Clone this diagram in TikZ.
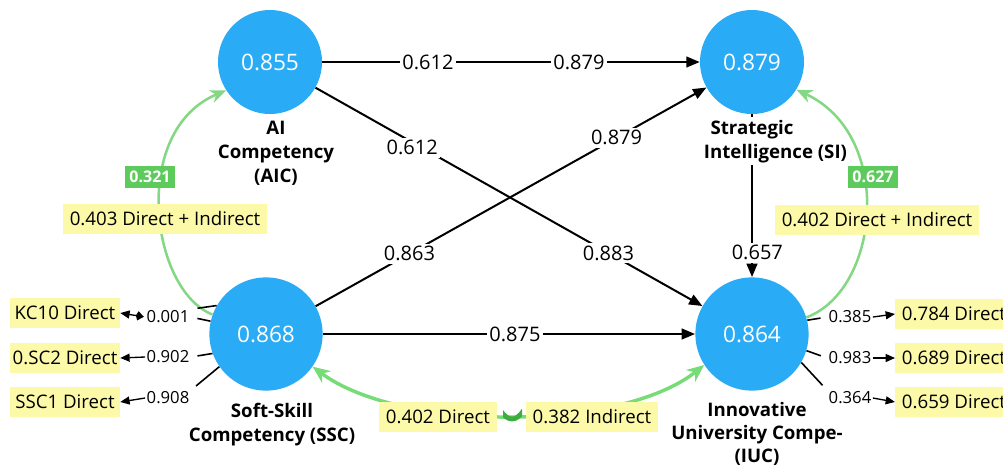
\documentclass[tikz,border=0pt]{standalone}
\usepackage{fontspec}
\setmainfont{Open Sans}
\usetikzlibrary{arrows.meta}
\definecolor{nodeblue}{HTML}{2AABF5}
\definecolor{notey}{HTML}{FCF9A8}
\definecolor{pathgreen}{HTML}{84D884}
\definecolor{tagg}{HTML}{5CCB5C}
\definecolor{darkg}{HTML}{3DAE3D}
\tikzset{
  construct/.style={circle, fill=nodeblue, text=white, inner sep=0pt, font=\fontsize{17}{20}\selectfont},
  bigc/.style={construct, minimum size=85pt},
  smallc/.style={construct, minimum size=78pt},
  ttl/.style={fill=white, inner sep=2pt, font=\bfseries\fontsize{14}{18}\selectfont},
  pathedge/.style={line width=1.5pt, -{Triangle[length=10pt,width=8pt]}},
  wlab/.style={fill=white, inner sep=2pt, font=\fontsize{15}{18}\selectfont},
  slab/.style={inner sep=1pt, font=\fontsize{12.5}{14}\selectfont},
  stub/.style={line width=1.2pt, shorten >=5pt},
  tipedge/.style={line width=1pt, -{Triangle[length=7pt,width=6pt]}},
  effect/.style={draw=pathgreen, line width=1.9pt, -{Stealth[length=12pt,width=10pt]}},
  note/.style={fill=notey, inner xsep=5pt, minimum height=22pt, font=\fontsize{14}{16}\selectfont},
  tag/.style={fill=tagg, text=white, font=\bfseries\fontsize{12}{14}\selectfont, minimum height=16pt, inner xsep=3pt},
}
\begin{document}
\begin{tikzpicture}[x=0.75pt,y=-0.75pt]
\useasboundingbox (0,0) rectangle (1003,469);

% latent constructs
\node[smallc] (aic) at (270,62) {0.855};
\node[smallc] (si) at (752,62) {0.879};
\node[bigc] (ssc) at (266,334) {0.868};
\node[bigc] (iuc) at (752,334) {0.864};

% structural paths
\draw[pathedge] (aic.east) -- node[wlab,pos=0.28]{0.612} node[wlab,pos=0.68]{0.879} (si.west);
\draw[pathedge] (aic) -- node[wlab,pos=0.25,yshift=-4pt]{0.612} node[wlab,pos=0.757]{0.883} (iuc);
\draw[pathedge] (ssc) -- node[wlab,pos=0.24]{0.863} node[wlab,pos=0.77]{0.879} (si);
\draw[pathedge] (ssc) -- node[wlab,pos=0.516]{0.875} (iuc);
\draw[pathedge] (si) -- node[wlab,pos=0.85,xshift=4pt]{0.657} (iuc);

% construct names
\node[ttl, align=center] (aict) at (276,153) {AI\\Competency\\(AIC)};
\node[ttl, align=left, anchor=north west] (sit) at (701,117) {\hspace*{5pt}Strategic\\Intelligence (SI)};
\node[ttl, align=center] (ssct) at (272,425) {Soft-Skill\\Competency (SSC)};
\node[ttl, align=center, font=\bfseries\fontsize{14}{17.5}\selectfont] (iuct) at (757,434) {Innovative\\University Compe-\\(IUC)};

% mediation effects
\draw[effect] (ssc.160) .. controls (150,290) and (130,130) .. (aic.213);
\draw[effect] (iuc.17) .. controls (880,290) and (895,135) .. (si.-32);
\draw[draw=pathgreen!90!green, line width=2.6pt, {Stealth[length=13pt,width=11pt]}-{Stealth[length=13pt,width=11pt]}]
  (ssc.-35) .. controls (400,432) and (620,432) .. (iuc.213);
\begin{scope}
  \clip (503,400) rectangle (522,432);
  \draw[darkg, line width=3.6pt] (500,410) .. controls (508,422) and (516,422) .. (524,410);
\end{scope}

% effect notes
\node[tag] (t1) at (150,177) {0.321};
\node[tag] (t2) at (873,177) {0.627};
\node[note] (n1) at (165,219) {0.403 Direct + Indirect};
\node[note] (n2) at (877,220) {0.402 Direct + Indirect};
\node[note] (n3) at (438,417) {0.402 Direct};
\node[note] (n4) at (592,417) {0.382 Indirect};

% indicator loadings, left
\node[slab] (l1) at (168,317) {0.001};
\node[slab] (l2) at (168,357) {0.902};
\node[slab] (l3) at (168,398) {0.908};
\node[note, minimum width=82.5pt, inner xsep=2pt] (b1) at (65,313) {KC10 Direct};
\node[note, minimum width=82.5pt, inner xsep=2pt] (b2) at (65,358) {0.SC2 Direct};
\node[note, minimum width=82.5pt, inner xsep=2pt] (b3) at (65,402) {SSC1 Direct};
\draw[stub] (ssc.150) -- (l1.north east);
\draw[stub] (ssc.167) -- (l1.east);
\draw[stub] (ssc.200) -- (l2.east);
\draw[stub] (ssc.215) -- (l3.north east);
\draw[line width=1pt, {Kite[length=6pt,width=7pt]}-{Triangle[length=7pt,width=6pt]}, shorten <=1pt] (l1.west) -- (b1.east);
\draw[tipedge] (l2.west) -- (b2.east);
\draw[tipedge] (l3.west) -- (b3.east);

% indicator loadings, right
\node[slab] (r1) at (850,317) {0.385};
\node[slab] (r2) at (850,358) {0.983};
\node[slab] (r3) at (850,398) {0.364};
\node[note, anchor=west] (c1) at (895,314) {0.784 Direct};
\node[note, anchor=west] (c2) at (895,358) {0.689 Direct};
\node[note, anchor=west] (c3) at (895,402) {0.659 Direct};
\draw[stub] (iuc.14) -- (r1.west);
\draw[stub] (iuc.-17) -- (r2.west);
\draw[stub] (iuc.-30) -- (r3.north west);
\draw[tipedge] (r1.east) -- (c1.west);
\draw[tipedge] (r2.east) -- (c2.west);
\draw[tipedge] (r3.east) -- (c3.west);
\end{tikzpicture}
\end{document}
